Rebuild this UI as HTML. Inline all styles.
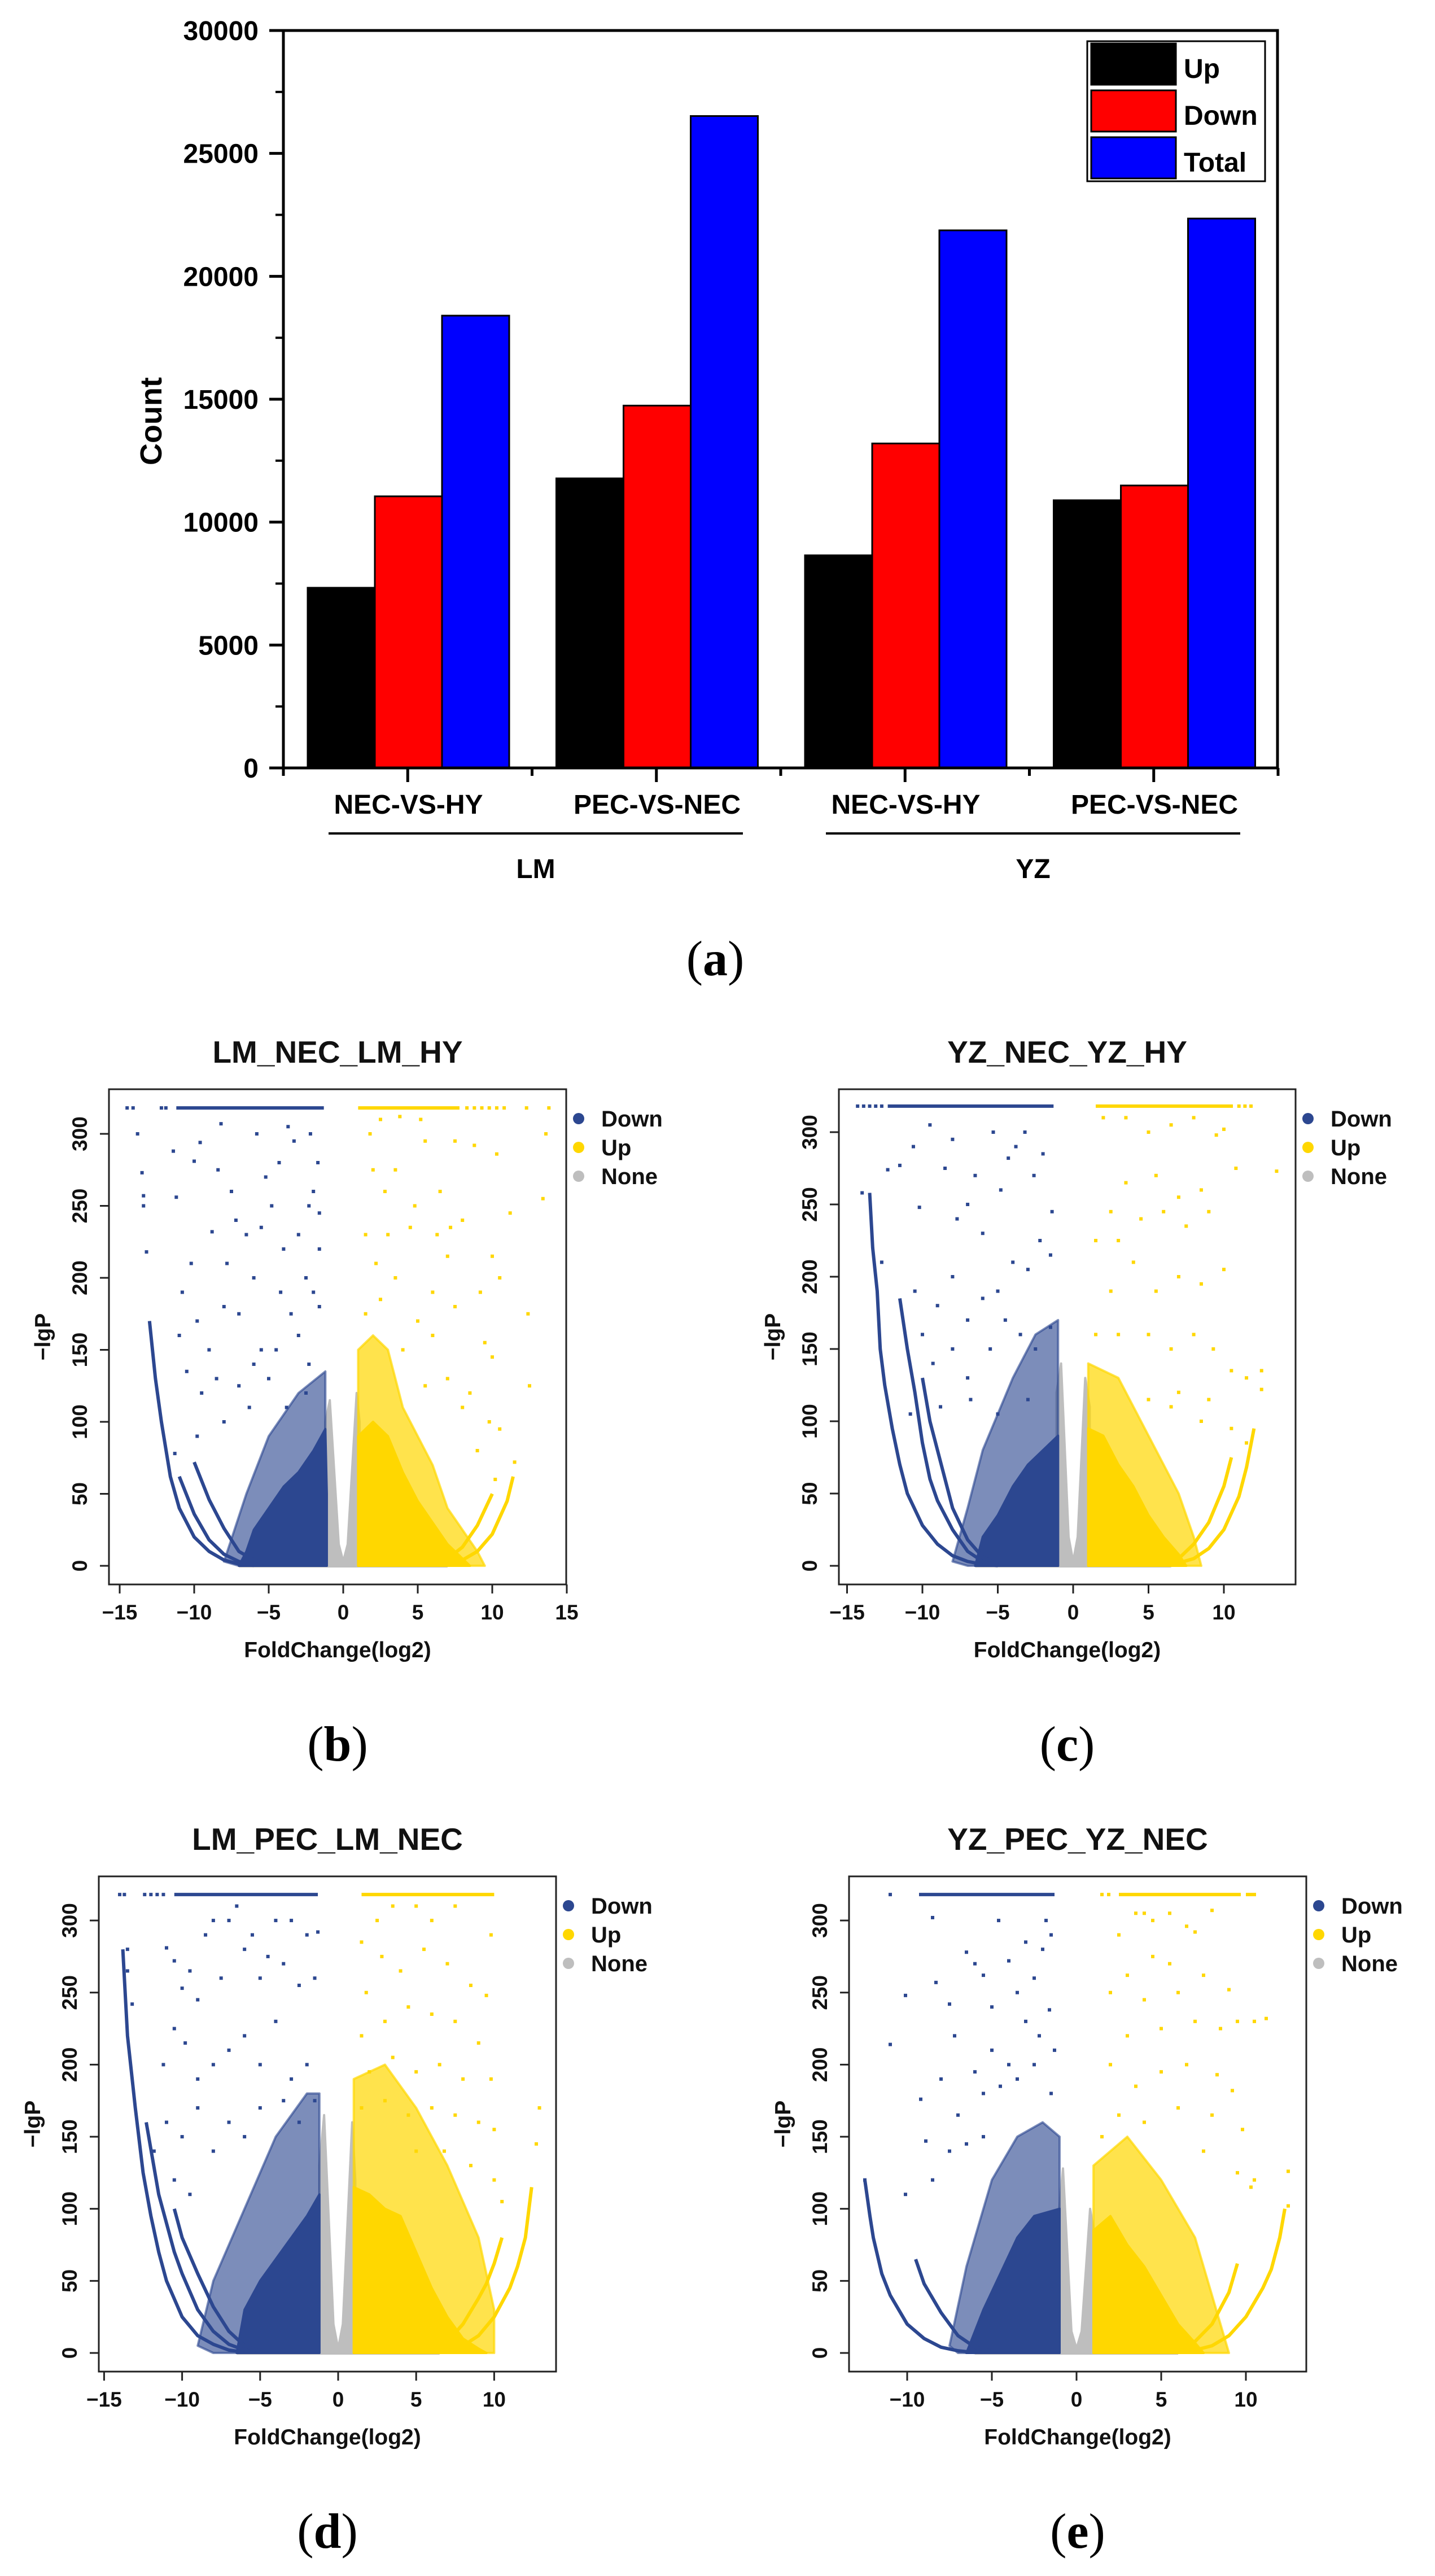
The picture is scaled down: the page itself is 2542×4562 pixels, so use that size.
<!DOCTYPE html>
<html><head><meta charset="utf-8"><title>DEG counts and volcano plots</title>
<style>
html,body{margin:0;padding:0;background:#fff;}
svg{display:block;}
.sans{font-family:"Liberation Sans",sans-serif;font-weight:bold;}
.serif{font-family:"Liberation Serif",serif;}
</style></head>
<body>
<svg id="fig" xmlns="http://www.w3.org/2000/svg" width="2542" height="4562" viewBox="0 0 2542 4562">
<rect x="0" y="0" width="2542" height="4562" fill="#fff"/>
<g id="barChart"></g>
<g id="panelB"></g>
<g id="panelC"></g>
<g id="panelD"></g>
<g id="panelE"></g>
</svg>
<script>
// ---------- bar chart data ----------
var barCategories = ["NEC-VS-HY","PEC-VS-NEC","NEC-VS-HY","PEC-VS-NEC"];
var barGroups = ["LM","YZ"];
var upVals = [7330, 11780, 8650, 10890];
var downVals = [11050, 14740, 13200, 11490];
var totalVals = [18400, 26520, 21870, 22350];
var barYTicks = [0,5000,10000,15000,20000,25000,30000];
var legendLabels = ["Up","Down","Total"];

// ---------- volcano data (x = log2 fold change, y = -lgP) ----------
// panel b
var bCapDown = [-11.2,-1.3]; var bCapDownSparse = [-14.5,-14.1,-12.2,-11.9];
var bCapUp = [1.0,7.8]; var bCapUpSparse = [8.3,8.8,9.3,9.8,10.3,10.8,12.3,13.8];
var bDownCurves = [
 [[-13,170],[-12.6,130],[-12.2,100],[-11.6,62],[-11,40],[-10,20],[-9,10],[-8,4],[-7,1.2],[-6,0.3]],
 [[-11,62],[-10,36],[-9,18],[-8,8],[-7,3],[-6,1]],
 [[-10,72],[-9,46],[-8,26],[-7,10],[-6,4],[-5,1]]];
var bUpCurves = [
 [[11.4,62],[11,45],[10,22],[9,10],[8,4],[7,1.5],[6,0.4]],
 [[10,50],[9,28],[8,13],[7,5],[6,1.5]]];
var bDownMid = [[-8,3],[-6.5,50],[-5,90],[-3,120],[-1.2,135],[-1.2,0],[-7,0]];
var bDownCore = [[-7,0],[-6.5,10],[-6,25],[-5,40],[-4,55],[-3,65],[-2,80],[-1.2,95],[-1.1,50],[-1.1,0]];
var bUpMid = [[1,0],[1,150],[2,160],[3,150],[4,110],[5,90],[6,70],[7,40],[9,10],[9.5,0]];
var bUpCore = [[1,0],[1,90],[2,100],[3,90],[4,65],[5,45],[6,30],[7,15],[8,5],[8.5,0]];
var bNone = [[-1.2,0],[-1.2,100],[-0.9,115],[-0.3,15],[0,3],[0.3,15],[0.9,120],[1.1,100],[1.1,0]];
var bNoneStrip = [-7,7];
var bDownPts = [[-13.8,300],[-13.5,273],[-13.4,257],[-13.4,250],[-13.2,218],[-11.4,288],[-11.2,256],[-10,281],[-9.6,294],[-8.2,307],[-8.4,275],[-7.5,260],[-7.2,240],[-8.8,232],[-10.2,210],[-10.8,190],[-9.8,170],[-11,160],[-9,150],[-8,180],[-7,175],[-6.5,230],[-6,200],[-5.8,300],[-5.2,270],[-4.8,250],[-4.3,280],[-4,220],[-3.7,305],[-3.3,295],[-2.2,300],[-2.3,250],[-1.6,245],[-1.7,280],[-1.6,220],[-1.6,180],[-2,190],[-2.5,200],[-3,160],[-3.5,175],[-4.5,150],[-5,130],[-5.5,150],[-6,140],[-7,125],[-8.5,130],[-9.5,120],[-10.5,135],[-2.3,140],[-2.5,120],[-3.8,110],[-6.3,110],[-8,100],[-9.8,90],[-11.3,78],[-4.2,190],[-3,230],[-2,260],[-5.5,235],[-7.8,210]];
var bUpPts = [[1.8,300],[2.5,310],[3.8,312],[5.2,310],[5.5,295],[7.5,295],[8.8,292],[10.3,286],[13.6,300],[13.4,255],[11.2,245],[12.4,175],[12.5,125],[10.5,200],[10,215],[9.2,190],[9.5,155],[10,145],[9.8,100],[10.5,95],[11.5,72],[2,275],[2.8,260],[3,230],[1.5,230],[4.5,235],[6.3,230],[7.2,235],[8,240],[6,190],[7.5,180],[5,170],[3.5,200],[2.2,210],[4,150],[6,160],[7,130],[8.5,120],[5.5,125],[8,110],[6.5,260],[3.5,275],[4.8,250],[7,215],[2.5,185],[1.5,175],[9,80],[10.2,60]];

// panel c
var cCapDown = [-12.3,-1.3]; var cCapDownSparse = [-14.3,-13.9,-13.5,-13.1,-12.7];
var cCapUp = [1.5,10.6]; var cCapUpSparse = [11.0,11.4,11.8];
var cDownCurves = [
 [[-13.5,258],[-13.3,220],[-13,190],[-12.8,150],[-12.5,125],[-12,95],[-11.5,70],[-11,50],[-10,28],[-9,15],[-8,7],[-7,3],[-6,1],[-5,0.2]],
 [[-11.5,185],[-11,150],[-10.5,120],[-10,85],[-9.5,60],[-9,45],[-8,25],[-7,10],[-6,3],[-5,0.5]],
 [[-10,130],[-9.5,100],[-9,80],[-8.5,60],[-8,40],[-7,18],[-6,6],[-5,1]]];
var cUpCurves = [
 [[12,95],[11.5,68],[11,48],[10,25],[9,12],[8,5],[7,2],[6,0.5]],
 [[10.5,75],[10,55],[9,30],[8,15],[7,5],[6,1]]];
var cDownMid = [[-8,3],[-7,40],[-6,80],[-4,130],[-2.5,160],[-1,170],[-1,0],[-7,0]];
var cDownCore = [[-6.5,0],[-6,20],[-5,35],[-4,55],[-3,70],[-2,80],[-1,90],[-1,0]];
var cUpMid = [[1,0],[1,140],[3,130],[5,90],[7,50],[8,20],[8.5,0]];
var cUpCore = [[1,0],[1,95],[2,90],[3,70],[4,55],[5,35],[6,20],[7,8],[7.5,0]];
var cNone = [[-1.1,0],[-1.1,120],[-0.8,140],[-0.3,20],[0,3],[0.3,20],[0.8,130],[1.1,110],[1.1,0]];
var cNoneStrip = [-6.5,6.5];
var cDownPts = [[-14,258],[-12.7,210],[-12.3,274],[-11.5,277],[-10.6,290],[-10.2,248],[-9.5,305],[-8.5,275],[-8,295],[-7.7,240],[-7,250],[-6.5,270],[-6,230],[-5.3,300],[-4.8,260],[-4.3,282],[-3.8,290],[-3.2,300],[-2.6,270],[-2,285],[-1.4,245],[-1.5,215],[-2.2,225],[-3,205],[-4,210],[-5,190],[-6,185],[-7,170],[-8,200],[-9,180],[-10,160],[-10.5,190],[-9.3,140],[-8,150],[-7,130],[-5.5,150],[-4.5,170],[-3.5,160],[-2.5,150],[-1.5,165],[-6.8,115],[-8.8,110],[-10.8,105],[-5,105],[-3,115]];
var cUpPts = [[2,310],[3.5,310],[5,300],[6.5,305],[8,310],[9.5,298],[10,302],[13.5,273],[10.8,275],[8.5,260],[7,255],[5.5,270],[3.5,265],[2.5,245],[1.5,225],[3,225],[4.5,240],[6,245],[7.5,235],[9,245],[10,205],[8.5,195],[7,200],[5.5,190],[4,210],[2.5,190],[1.5,160],[3,160],[5,160],[6.5,150],[8,160],[9.3,150],[10.5,135],[12.5,135],[12.5,122],[11.5,130],[9,115],[7,120],[5,115],[11.5,85],[10.5,95],[8.5,100],[6.5,110]];

// panel d
var dCapDown = [-10.5,-1.3]; var dCapDownSparse = [-14,-13.7,-12.4,-12,-11.6,-11.2];
var dCapUp = [1.5,10]; var dCapUpSparse = [];
var dDownCurves = [
 [[-13.8,280],[-13.5,220],[-13.2,190],[-13,170],[-12.5,125],[-12,95],[-11.5,70],[-11,50],[-10,25],[-9,12],[-8,6],[-7,2],[-6,0.5]],
 [[-12.3,160],[-11.5,110],[-11,90],[-10.5,70],[-10,55],[-9,30],[-8,15],[-7,6],[-6,2]],
 [[-10.5,100],[-10,80],[-9,55],[-8,32],[-7,15],[-6,5],[-5,1]]];
var dUpCurves = [
 [[12.4,115],[12,80],[11.5,60],[11,45],[10,25],[9,12],[8,5],[7,2],[6,0.5]],
 [[10.5,80],[10,62],[9.5,48],[9,38],[8,20],[7,8],[6,2]]];
var dDownMid = [[-9,5],[-8,50],[-6,100],[-4,150],[-2,180],[-1.2,180],[-1.2,0],[-8,0]];
var dDownCore = [[-6.5,0],[-6,30],[-5,50],[-4,65],[-3,80],[-2,95],[-1.2,110],[-1.2,0]];
var dUpMid = [[1,0],[1,190],[3,200],[5,170],[7,130],[9,80],[10,30],[10,0]];
var dUpCore = [[1,0],[1,115],[2,110],[3,100],[4,95],[5,70],[6,45],[7,25],[8,10],[9,3],[9.5,0]];
var dNone = [[-1.2,0],[-1.2,130],[-0.9,165],[-0.3,20],[0,3],[0.3,20],[0.9,160],[1.1,120],[1.1,0]];
var dNoneStrip = [-6.5,6.5];
var dDownPts = [[-13.5,280],[-13.5,265],[-13.2,242],[-11,281],[-10.5,272],[-10,253],[-9.5,265],[-9,245],[-8.5,290],[-8,300],[-7.5,260],[-7,300],[-6.5,310],[-6,280],[-5.5,290],[-5,260],[-4.5,275],[-4,300],[-3.5,270],[-3,300],[-2.5,255],[-2,290],[-1.3,292],[-1.5,260],[-11.2,200],[-10.5,225],[-9.8,215],[-9,190],[-8,200],[-7,210],[-6,220],[-5,200],[-4,230],[-3,190],[-2,200],[-1.5,175],[-11,160],[-10,150],[-9,170],[-8,140],[-7,160],[-6,150],[-5,170],[-3.5,175],[-2.5,160],[-10.5,120],[-9.5,110],[-11.8,140]];
var dUpPts = [[1.5,285],[2.5,300],[3.5,310],[5,310],[6,300],[7.5,310],[9.8,290],[9.5,248],[8.5,255],[7,270],[5.5,280],[4,265],[2.8,275],[1.8,250],[1.5,220],[3,230],[4.5,240],[6,235],[7.5,230],[9,215],[2,195],[3.5,205],[5,195],[6.5,200],[8,190],[9.8,190],[1.5,170],[3,175],[4.5,165],[6,170],[7.5,165],[9,160],[10,155],[12.9,170],[12.7,145],[10,120],[10.5,105],[8.5,130],[6.8,140],[5,140]];

// panel e
var eCapDown = [-9.3,-1.3]; var eCapDownSparse = [-11];
var eCapUp = [2.5,9.7]; var eCapUpSparse = [1.5,1.9,10.1,10.5,10.3];
var eDownCurves = [
 [[-12.5,120],[-12.2,95],[-12,80],[-11.5,55],[-11,40],[-10,20],[-9,10],[-8,4],[-7,1.5],[-6,0.3]],
 [[-9.5,65],[-9,48],[-8,28],[-7,12],[-6,4],[-5,1]]];
var eUpCurves = [
 [[12.3,100],[12,80],[11.5,58],[11,45],[10,25],[9,12],[8,5],[7,2],[6,0.5]],
 [[9.5,62],[9,42],[8,20],[7,8],[6,2]]];
var eDownMid = [[-7.5,5],[-6.5,60],[-5,120],[-3.5,150],[-2,160],[-1,150],[-1,0],[-7,0]];
var eDownCore = [[-6.5,0],[-5.5,30],[-4.5,55],[-3.5,80],[-2.5,95],[-1,100],[-1,0]];
var eUpMid = [[1,0],[1,130],[3,150],[5,120],[7,80],[8,40],[9,0]];
var eUpCore = [[1,0],[1,85],[2,95],[3,75],[4,60],[5,40],[6,20],[7,7],[7.5,0]];
var eNone = [[-1.1,0],[-1.1,90],[-0.8,128],[-0.3,15],[0,3],[0.3,15],[0.8,100],[1.1,80],[1.1,0]];
var eNoneStrip = [-6,6];
var eDownPts = [[-11,214],[-10.1,248],[-10.1,110],[-9.2,176],[-8.9,147],[-8.5,302],[-8.3,257],[-7.5,242],[-7.2,220],[-6.5,278],[-6,270],[-5.5,262],[-5,240],[-4.6,300],[-4,272],[-3.5,250],[-3,285],[-2.5,260],[-2,280],[-1.8,300],[-1.5,290],[-1.6,238],[-2.2,220],[-3,230],[-4,200],[-5,210],[-6,195],[-7,165],[-8,190],[-5.5,180],[-4.5,185],[-3.5,190],[-2.5,200],[-1.5,180],[-1.3,210],[-6.5,145],[-7.5,140],[-8.5,120],[-5.5,150],[-12.5,120]];
var eUpPts = [[2.5,290],[3.5,305],[4,305],[4.5,300],[5.5,305],[6.5,296],[8,307],[7,292],[5.5,270],[4.5,275],[3,262],[2,250],[4,245],[6,250],[7.5,262],[9,252],[9.5,230],[10.5,230],[11.2,232],[8.5,225],[7,230],[5,225],[3,220],[2,200],[3.5,185],[5,195],[6.5,200],[8.3,193],[9.2,182],[9.8,155],[8,165],[6,170],[4,160],[2.5,165],[1.5,150],[10.5,120],[10.3,115],[12.5,126],[12.5,102],[9.5,125],[7.5,140]];

var SVGNS = "http://www.w3.org/2000/svg";
function mk(tag, attrs, parent){
  var el = document.createElementNS(SVGNS, tag);
  for (var k in attrs) el.setAttribute(k, attrs[k]);
  parent.appendChild(el);
  return el;
}

// ================= BAR CHART =================
(function(){
  var g = document.getElementById('barChart');
  var L = 502, R = 2263, T = 54, B = 1360, yMax = 30000;
  function yS(v){ return B - v/yMax*(B-T); }
  var groupPitch = 440.5, barW = 119, firstLeft = 545;
  var series = [upVals, downVals, totalVals];
  var colors = ["#000000","#ff0000","#0000ff"];
  var snames = ["up","down","total"];
  for (var i=0;i<barCategories.length;i++){
    for (var s=0;s<3;s++){
      var x = firstLeft + i*groupPitch + s*barW;
      var r = mk('rect',{x:x,y:yS(series[s][i]),width:barW,height:B-yS(series[s][i]),fill:colors[s],stroke:'#000','stroke-width':3},g);
      
      
    }
  }
  var fr = mk('rect',{x:L,y:T,width:R-L,height:B-T,fill:'none',stroke:'#000','stroke-width':5},g);
  
  
  for (var t=0;t<barYTicks.length;t++){
    var v = barYTicks[t];
    var tk = mk('line',{x1:L-25,x2:L,y1:yS(v),y2:yS(v),stroke:'#000','stroke-width':5},g);
    
    
    if (t<barYTicks.length-1){
      var mn = mk('line',{x1:L-14,x2:L,y1:yS(v+2500),y2:yS(v+2500),stroke:'#000','stroke-width':4},g);
      
      
    }
    var lb = mk('text',{x:L-44,y:yS(v)+17,'text-anchor':'end','font-size':48,'class':'sans'},g);
    lb.textContent = String(v);
    
    
  }
  for (var j=0;j<=barCategories.length*2;j++){
    var xx = L + j*(groupPitch/2);
    var xt = mk('line',{x1:xx,x2:xx,y1:B,y2:B+(j%2===1?25:14),stroke:'#000','stroke-width':5},g);
    
    
  }
  for (var c=0;c<barCategories.length;c++){
    var cx = firstLeft + c*groupPitch + 1.5*barW;
    var cl = mk('text',{x:cx,y:1441,'text-anchor':'middle','font-size':48,'class':'sans'},g);
    cl.textContent = barCategories[c];
    
    
  }
  for (var gi=0;gi<barGroups.length;gi++){
    var x1 = 582 + gi*881, x2 = 1316 + gi*881;
    var ul = mk('line',{x1:x1,x2:x2,y1:1476,y2:1476,stroke:'#000','stroke-width':4},g);
    
    
    var gl = mk('text',{x:(x1+x2)/2,y:1555,'text-anchor':'middle','font-size':48,'class':'sans'},g);
    gl.textContent = barGroups[gi];
    
    
  }
  var yl = mk('text',{x:0,y:0,'text-anchor':'middle','font-size':54,'class':'sans',transform:'translate(286,746) rotate(-90)'},g);
  yl.textContent = 'Count';
  
  
  var lg = mk('rect',{x:1926,y:73,width:315,height:248,fill:'#fff',stroke:'#000','stroke-width':3},g);
  
  
  for (var q=0;q<3;q++){
    var sw = mk('rect',{x:1933,y:77+q*83,width:150,height:73,fill:colors[q],stroke:'#000','stroke-width':3},g);
    
    
    var lt = mk('text',{x:2097,y:138+q*83,'font-size':48,'class':'sans'},g);
    lt.textContent = legendLabels[q];
    
    
  }
  var pa = mk('text',{x:1267,y:1727,'text-anchor':'middle','font-size':88,'class':'serif'},g);
  pa.innerHTML = '(<tspan font-weight="bold">a</tspan>)';
  
  
})();

// ================= VOLCANO PANELS =================
var BLUE = "#2c4790", YEL = "#ffd700", GRAY = "#bebebe";
function drawVolcano(id, L, T, R, B, x0, ux, y0, uy, xTicks, title, letter, d){
  var g = document.getElementById(id);
  function X(v){ return x0 + v*ux; }
  function Y(v){ return y0 - v*uy; }
  function poly(pts, fill, op, name){
    var s = pts.map(function(p){return X(p[0])+','+Y(p[1]);}).join(' ');
    var el = mk('polygon',{points:s,fill:fill,'fill-opacity':op,'stroke':fill,'stroke-opacity':op,'stroke-width':4,'stroke-linejoin':'round'},g);
    
    
  }
  function curve(pts, col, name){
    var s = pts.map(function(p){return X(p[0])+','+Y(p[1]);}).join(' ');
    var el = mk('polyline',{points:s,fill:'none',stroke:col,'stroke-width':6,'stroke-linejoin':'round'},g);
    
    
  }
  function pt(x, y, col, name){
    var el = mk('rect',{x:X(x)-3,y:Y(y)-3,width:6,height:6,fill:col},g);
    
    
  }
  var st = mk('rect',{x:X(d.strip[0]),y:Y(3),width:X(d.strip[1])-X(d.strip[0]),height:Y(0)-Y(3)+3,fill:GRAY},g);
  
  
  poly(d.none, GRAY, 1, 'none-points');
  poly(d.downMid, BLUE, 0.62, 'down-points-mid-density');
  poly(d.upMid, YEL, 0.7, 'up-points-mid-density');
  poly(d.downCore, BLUE, 1, 'down-points-core');
  poly(d.upCore, YEL, 1, 'up-points-core');
  d.downCurves.forEach(function(c){ curve(c, BLUE, 'down-points-envelope'); });
  d.upCurves.forEach(function(c){ curve(c, YEL, 'up-points-envelope'); });
  d.downPts.forEach(function(p){ pt(p[0],p[1],BLUE,'down-point'); });
  d.upPts.forEach(function(p){ pt(p[0],p[1],YEL,'up-point'); });
  var cy = Y(318);
  var cd = mk('rect',{x:X(d.capDown[0]),y:cy-3,width:X(d.capDown[1])-X(d.capDown[0]),height:6,fill:BLUE},g);
  
  
  var cu = mk('rect',{x:X(d.capUp[0]),y:cy-3,width:X(d.capUp[1])-X(d.capUp[0]),height:6,fill:YEL},g);
  
  
  d.capDownSparse.forEach(function(v){ pt(v,318,BLUE,'down-point'); });
  d.capUpSparse.forEach(function(v){ pt(v,318,YEL,'up-point'); });
  var bx = mk('rect',{x:L,y:T,width:R-L,height:B-T,fill:'none',stroke:'#222','stroke-width':3},g);
  
  
  var ya = mk('line',{x1:L,x2:L,y1:Y(0),y2:Y(300),stroke:'#222','stroke-width':3},g);
  
  
  for (var v=0; v<=300; v+=50){
    var tk = mk('line',{x1:L-16,x2:L,y1:Y(v),y2:Y(v),stroke:'#222','stroke-width':3},g);
    
    
    var tl = mk('text',{x:0,y:0,'text-anchor':'middle','font-size':37,'class':'sans',fill:'#111',transform:'translate('+(L-39)+','+Y(v)+') rotate(-90)'},g);
    tl.textContent = String(v);
    
    
  }
  var xa = mk('line',{x1:X(xTicks[0]),x2:X(xTicks[xTicks.length-1]),y1:B,y2:B,stroke:'#222','stroke-width':3},g);
  
  
  xTicks.forEach(function(t){
    var tk = mk('line',{x1:X(t),x2:X(t),y1:B,y2:B+16,stroke:'#222','stroke-width':3},g);
    
    
    var tl = mk('text',{x:X(t),y:B+62,'text-anchor':'middle','font-size':37,'class':'sans',fill:'#111'},g);
    tl.textContent = (t<0 ? '\u2212'+Math.abs(t) : String(t));
    
    
  });
  var xl = mk('text',{x:(L+R)/2,y:B+129,'text-anchor':'middle','font-size':39,'class':'sans',fill:'#111'},g);
  xl.textContent = 'FoldChange(log2)';
  
  
  var yl = mk('text',{x:0,y:0,'text-anchor':'middle','font-size':39,'class':'sans',fill:'#111',transform:'translate('+(L-104)+','+((T+B)/2)+') rotate(-90)'},g);
  yl.textContent = '\u2212lgP';
  
  
  var tt = mk('text',{x:(L+R)/2,y:T-47,'text-anchor':'middle','font-size':55,'class':'sans',fill:'#111'},g);
  tt.textContent = title;
  
  
  var labs = ['Down','Up','None'], cols = [BLUE,YEL,GRAY];
  for (var i=0;i<3;i++){
    var ly = T + 52 + i*51;
    var dot = mk('circle',{cx:R+22,cy:ly,r:10,fill:cols[i]},g);
    
    
    var lt = mk('text',{x:R+62,y:ly+14,'font-size':40,'class':'sans',fill:'#111'},g);
    lt.textContent = labs[i];
    
    
  }
  var pl = mk('text',{x:(L+R)/2,y:B+312,'text-anchor':'middle','font-size':88,'class':'serif'},g);
  pl.innerHTML = '(<tspan font-weight="bold">'+letter+'</tspan>)';
  
  
}

drawVolcano('panelB',193,1929,1003,2806, 608,26.4, 2773,2.55, [-15,-10,-5,0,5,10,15],'LM_NEC_LM_HY','b',
 {capDown:bCapDown,capDownSparse:bCapDownSparse,capUp:bCapUp,capUpSparse:bCapUpSparse,downCurves:bDownCurves,upCurves:bUpCurves,downMid:bDownMid,downCore:bDownCore,upMid:bUpMid,upCore:bUpCore,none:bNone,strip:bNoneStrip,downPts:bDownPts,upPts:bUpPts});
drawVolcano('panelC',1486,1929,2295,2806, 1901,26.7, 2773,2.56, [-15,-10,-5,0,5,10],'YZ_NEC_YZ_HY','c',
 {capDown:cCapDown,capDownSparse:cCapDownSparse,capUp:cCapUp,capUpSparse:cCapUpSparse,downCurves:cDownCurves,upCurves:cUpCurves,downMid:cDownMid,downCore:cDownCore,upMid:cUpMid,upCore:cUpCore,none:cNone,strip:cNoneStrip,downPts:cDownPts,upPts:cUpPts});
drawVolcano('panelD',175,3323,985,4200, 599,27.64, 4167,2.553, [-15,-10,-5,0,5,10],'LM_PEC_LM_NEC','d',
 {capDown:dCapDown,capDownSparse:dCapDownSparse,capUp:dCapUp,capUpSparse:dCapUpSparse,downCurves:dDownCurves,upCurves:dUpCurves,downMid:dDownMid,downCore:dDownCore,upMid:dUpMid,upCore:dUpCore,none:dNone,strip:dNoneStrip,downPts:dDownPts,upPts:dUpPts});
drawVolcano('panelE',1504,3323,2314,4200, 1907,30.0, 4167,2.553, [-10,-5,0,5,10],'YZ_PEC_YZ_NEC','e',
 {capDown:eCapDown,capDownSparse:eCapDownSparse,capUp:eCapUp,capUpSparse:eCapUpSparse,downCurves:eDownCurves,upCurves:eUpCurves,downMid:eDownMid,downCore:eDownCore,upMid:eUpMid,upCore:eUpCore,none:eNone,strip:eNoneStrip,downPts:eDownPts,upPts:eUpPts});
</script>
</body></html>
